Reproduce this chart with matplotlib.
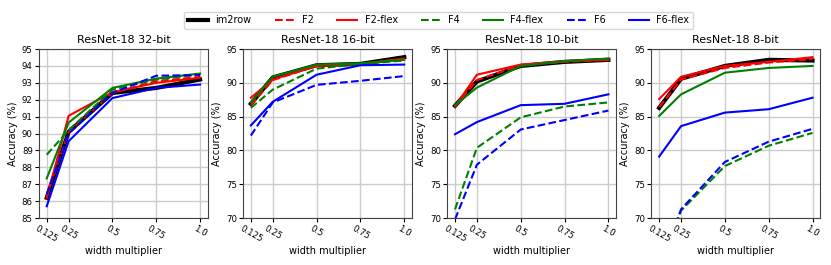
import matplotlib
matplotlib.use("Agg")
import matplotlib.pyplot as plt
from matplotlib.ticker import MultipleLocator

widths = [0.125, 0.25, 0.5, 0.75, 1.0]
width_labels = ["0.125", "0.25", "0.5", "0.75", "1.0"]

titles = ["ResNet-18 32-bit", "ResNet-18 16-bit", "ResNet-18 10-bit", "ResNet-18 8-bit"]
ylims = [(85, 95), (70, 95), (70, 95), (70, 95)]
ysteps = [1, 5, 5, 5]

# accuracy (%) per bit-width, one list per method
im2row  = [[86.2, 90.1, 92.4, 92.7, 93.2],
           [86.9, 90.8, 92.6, 92.8, 93.8],
           [86.6, 90.2, 92.5, 93.1, 93.4],
           [86.3, 90.6, 92.5, 93.4, 93.3]]
f2      = [[86.3, 90.1, 92.4, 93.1, 93.35],
           [86.7, 90.4, 92.5, 92.8, 93.5],
           [86.5, 90.4, 92.6, 93.1, 93.4],
           [86.4, 90.5, 92.2, 93.0, 93.5]]
f2_flex = [[86.2, 91.05, 92.45, 93.0, 93.3],
           [87.8, 90.5, 92.5, 92.8, 93.6],
           [86.5, 91.2, 92.7, 93.2, 93.4],
           [87.6, 90.9, 92.5, 93.1, 93.8]]
f4      = [[88.75, 90.2, 92.6, 93.2, 93.5],
           [86.3, 89.0, 92.1, 92.8, 93.3],
           [71.3, 80.4, 84.9, 86.5, 87.1],
           [62.3, 71.1, 77.7, 80.7, 82.6]]
f4_flex = [[87.35, 90.65, 92.7, 93.25, 93.55],
           [87.1, 90.9, 92.7, 92.9, 93.4],
           [86.7, 89.3, 92.5, 93.2, 93.6],
           [85.1, 88.3, 91.5, 92.2, 92.5]]
f6      = [[86.4, 90.0, 92.4, 93.42, 93.46],
           [82.2, 87.1, 89.7, 90.3, 91.0],
           [69.8, 77.9, 83.1, 84.5, 85.9],
           [62.6, 71.3, 78.3, 81.3, 83.2]]
f6_flex = [[85.7, 89.55, 92.1, 92.7, 92.9],
           [83.7, 87.2, 91.2, 92.6, 92.7],
           [82.4, 84.2, 86.7, 86.9, 88.3],
           [79.1, 83.6, 85.6, 86.1, 87.8]]

series = [
    ("im2row", im2row, "k", "-", 3),
    ("F2", f2, "r", "--", 1.5),
    ("F2-flex", f2_flex, "r", "-", 1.5),
    ("F4", f4, "g", "--", 1.5),
    ("F4-flex", f4_flex, "g", "-", 1.5),
    ("F6", f6, "b", "--", 1.5),
    ("F6-flex", f6_flex, "b", "-", 1.5),
]

fig, axes = plt.subplots(1, 4, figsize=(8.31, 2.65), dpi=100)
fig.subplots_adjust(left=0.047, right=0.987, top=0.815, bottom=0.177, wspace=0.21)

for i, ax in enumerate(axes):
    for name, vals, c, ls, lw in series:
        ax.plot(widths, vals[i], color=c, ls=ls, lw=lw, label=name)
    ax.set_ylim(*ylims[i])
    ax.yaxis.set_major_locator(MultipleLocator(ysteps[i]))
    ax.set_title(titles[i], fontsize=8, pad=4)
    ax.set_xticks(widths)
    ax.set_xticklabels(width_labels, rotation=-30, fontsize=6.2)
    ax.tick_params(axis="both", labelsize=6.2, length=3, pad=1.5)
    ax.set_xlabel("width multiplier", fontsize=7, labelpad=1)
    ax.set_ylabel("Accuracy (%)", fontsize=7, labelpad=3)
    ax.grid(True, color="#cccccc", lw=1)
    ax.set_axisbelow(True)
    for s in ax.spines.values():
        s.set_color("#444444")

handles, labels = axes[0].get_legend_handles_labels()
fig.legend(handles, labels, loc="center", bbox_to_anchor=(0.528, 0.923), ncol=7,
           fontsize=7, frameon=True, columnspacing=2.4, handletextpad=0.8,
           borderpad=0.4)

plt.savefig("out.png")
